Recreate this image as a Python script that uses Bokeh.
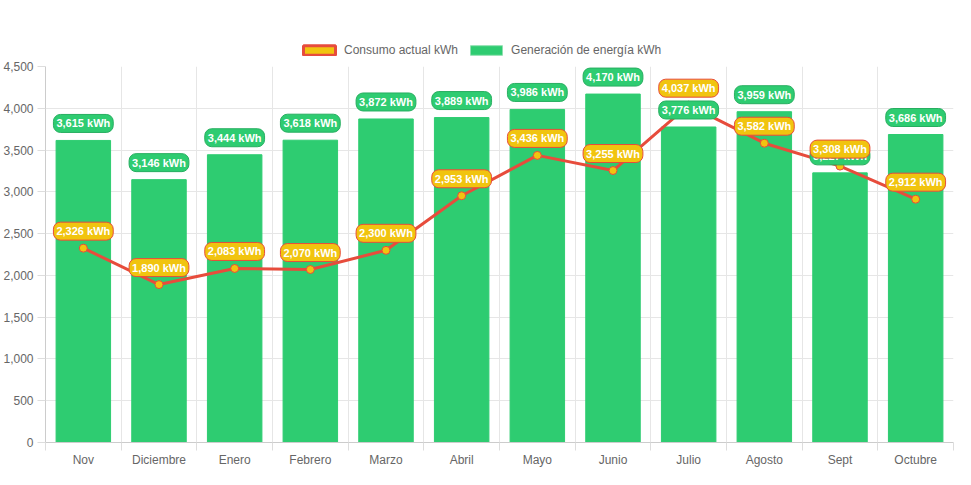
from bokeh.plotting import figure
from bokeh.layouts import column
from bokeh.models import (ColumnDataSource, Range1d, FixedTicker,
                          NumeralTickFormatter, Legend, LegendItem)
from bokeh.core.properties import value
from bokeh.embed import file_html
from bokeh.resources import INLINE

months = ["Nov", "Diciembre", "Enero", "Febrero", "Marzo", "Abril", "Mayo",
          "Junio", "Julio", "Agosto", "Sept", "Octubre"]
generacion = [3615, 3146, 3444, 3618, 3872, 3889, 3986, 4170, 3776, 3959, 3227, 3686]
consumo = [2326, 1890, 2083, 2070, 2300, 2953, 3436, 3255, 4037, 3582, 3308, 2912]
y_ticks = [0, 500, 1000, 1500, 2000, 2500, 3000, 3500, 4000, 4500]
series_names = ["Consumo actual kWh", "Generación de energía kWh"]

GREEN = "#2ecc71"
GREEN_DARK = "#27ae60"
YELLOW = "#f1c40f"
RED = "#e74c3c"
FONT = "Liberation Sans"

xs = [i + 0.5 for i in range(len(months))]
src = ColumnDataSource(dict(
    x=xs, gen=generacion, con=consumo,
    gen_txt=[f"{v:,} kWh" for v in generacion],
    con_txt=[f"{v:,} kWh" for v in consumo],
))

# ---------------- legend strip ----------------
lg = figure(width=955, height=60, output_backend="svg", toolbar_location=None,
            x_range=Range1d(0, 1), y_range=Range1d(0, 1),
            x_axis_type=None, y_axis_type=None,
            min_border_left=0, min_border_right=0, min_border_top=0, min_border_bottom=0)
lg.outline_line_color = None
lg.xgrid.visible = False
lg.ygrid.visible = False
# legend-only swatches, outside the visible range
sw_con = lg.quad(left=[-3], right=[-2], top=[1], bottom=[0], fill_color=YELLOW,
                 line_color=RED, line_width=3)
sw_gen = lg.quad(left=[-3], right=[-2], top=[1], bottom=[0], fill_color=GREEN,
                 line_color="#8fe0b0", line_width=1)
legend = Legend(items=[LegendItem(label=series_names[0], renderers=[sw_con]),
                       LegendItem(label=series_names[1], renderers=[sw_gen])],
                orientation="horizontal", location=(254, 3),
                glyph_width=40, glyph_height=12, label_standoff=5, spacing=8,
                label_text_font=FONT, label_text_font_size="12px",
                label_text_color="#666666", border_line_color=None,
                background_fill_alpha=0, margin=0, padding=2)
lg.add_layout(legend, "center")

# ---------------- main chart ----------------
p = figure(width=955, height=409, output_backend="svg", toolbar_location=None,
           x_range=Range1d(0, len(months)), y_range=Range1d(0, 4500),
           min_border_left=44, min_border_right=2, min_border_bottom=22,
           min_border_top=6)
p.outline_line_color = None
p.background_fill_color = "white"

bars = p.vbar(x="x", top="gen", width=0.72, source=src, fill_color=GREEN,
              line_color=GREEN, line_width=1)
line = p.line(x="x", y="con", source=src, line_color=RED, line_width=3)
pts = p.scatter(x="x", y="con", source=src, size=8, fill_color=YELLOW,
                line_color=RED, line_width=1)

# data labels
p.text(x="x", y="gen", text="gen_txt", source=src, y_offset=-17,
       text_align="center", text_baseline="middle",
       text_font=value(FONT), text_font_size="11px", text_font_style="bold",
       text_color="white", background_fill_color=GREEN,
       border_line_color=GREEN_DARK, border_line_width=1,
       padding=3, border_radius=7)
p.text(x="x", y="con", text="con_txt", source=src, y_offset=-17,
       text_align="center", text_baseline="middle",
       text_font=value(FONT), text_font_size="11px", text_font_style="bold",
       text_color="white", background_fill_color=YELLOW,
       border_line_color=RED, border_line_width=1,
       padding=3, border_radius=7)

# axes
p.xaxis.ticker = FixedTicker(ticks=xs, minor_ticks=list(range(len(months) + 1)))
p.xaxis.major_label_overrides = {x: m for x, m in zip(xs, months)}
p.xaxis.major_tick_line_color = None
p.xaxis.major_tick_out = 0
p.xaxis.major_tick_in = 0
p.xaxis.minor_tick_out = 8
p.xaxis.minor_tick_in = 0
p.xaxis.minor_tick_line_color = "#dddddd"
p.yaxis.ticker = FixedTicker(ticks=y_ticks)
p.yaxis.formatter = NumeralTickFormatter(format="0,0")
p.yaxis.major_tick_out = 8
p.yaxis.major_tick_in = 0
p.yaxis.minor_tick_line_color = None
p.yaxis.major_tick_line_color = "#dddddd"
for ax in (p.xaxis, p.yaxis):
    ax.axis_line_color = "#cccccc"
    ax.major_label_text_font = FONT
    ax.major_label_text_font_size = "12px"
    ax.major_label_text_color = "#666666"
p.xaxis.major_label_standoff = 2
p.yaxis.major_label_standoff = 4

p.xgrid.ticker = FixedTicker(ticks=list(range(len(months) + 1)))
p.ygrid.ticker = FixedTicker(ticks=y_ticks)
p.xgrid.grid_line_color = "#e6e6e6"
p.ygrid.grid_line_color = "#e6e6e6"

layout = column(lg, p, spacing=0)
open("out.html", "w").write(file_html(layout, INLINE))
